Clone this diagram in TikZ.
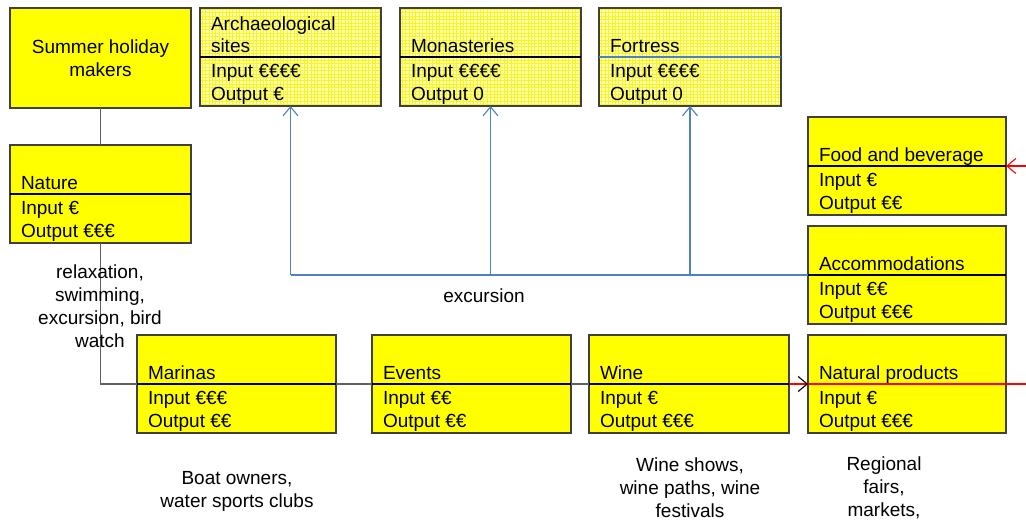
\documentclass[tikz,border=0pt]{standalone}
\usepackage{fontspec}
\setmainfont{Liberation Sans}
\usetikzlibrary{arrows.meta}
\definecolor{boxyellow}{RGB}{255,255,0}
\definecolor{paleyellow}{RGB}{255,255,175}
\definecolor{gridyellow}{RGB}{245,245,40}
\definecolor{bordergray}{RGB}{64,64,64}
\definecolor{conngray}{RGB}{96,96,96}
\definecolor{linkblue}{RGB}{79,129,189}
\definecolor{linkred}{RGB}{255,0,0}
\tikzset{
  txt/.style={font=\fontsize{19}{23}\selectfont, inner sep=0pt, outer sep=0pt, text=black},
  box/.style={draw=bordergray, line width=1.2pt, fill=boxyellow, inner sep=0pt, outer sep=0pt},
  gridbox/.style={box, fill=paleyellow,
    path picture={\draw[gridyellow, line width=0.6pt, step=3.4pt]
      (path picture bounding box.south west) grid (path picture bounding box.north east);}},
  divider/.style={black, line width=2.2pt},
  bluedivider/.style={linkblue, line width=1.4pt},
  conn/.style={conngray, line width=1.2pt},
  blueconn/.style={linkblue, line width=1.3pt},
  redconn/.style={linkred, line width=1.2pt},
  barb/.style={-{Straight Barb[length=9pt, width=15pt, line width=1.1pt]}},
}
% name, left, top, width, title, input, output, box style, divider style
\newcommand\infobox[9]{%
  \node[#8, anchor=north west, minimum width=#4pt, minimum height=98pt] (#1) at (#2,#3) {};
  \coordinate (#1-dl) at ([yshift=-49pt]#1.north west);
  \coordinate (#1-dr) at ([yshift=-49pt]#1.north east);
  \draw[#9] (#1-dl) -- (#1-dr);
  \node[txt, font=\fontsize{19}{22}\selectfont, align=left, text depth=0pt, anchor=south west] (#1-title) at ([xshift=11pt,yshift=4pt]#1-dl) {#5};
  \node[txt, anchor=base west] (#1-in) at ([xshift=11pt,yshift=-20.5pt]#1-dl) {Input #6};
  \node[txt, anchor=base west] (#1-out) at ([xshift=11pt,yshift=-43.5pt]#1-dl) {Output #7};
}
\begin{document}
\begin{tikzpicture}[x=1pt, y=-1pt]
\useasboundingbox[fill=white] (0,0) rectangle (1026,521);
\coordinate (rightedge) at (1026,0);

% top row
\node[box, txt, draw=bordergray, fill=boxyellow, anchor=north west, minimum width=181pt, minimum height=100pt, align=center] (sum) at (10,8) {Summer holiday\\makers};
\infobox{arch}{200}{8}{181}{Archaeological\\sites}{€€€€}{€}{gridbox}{divider}
\infobox{mon}{400}{8}{181}{Monasteries}{€€€€}{0}{gridbox}{divider}
\infobox{fort}{599}{8}{182}{Fortress}{€€€€}{0}{gridbox}{bluedivider}

% left column
\infobox{nat}{10}{145}{181}{Nature}{€}{€€€}{box}{divider}

% right column
\infobox{food}{808}{117}{198}{Food and beverage}{€}{€€}{box}{divider}
\infobox{acc}{808}{226}{198}{Accommodations}{€€}{€€€}{box}{divider}

% bottom row
\infobox{mar}{137}{335}{199}{Marinas}{€€€}{€€}{box}{divider}
\infobox{ev}{372}{335}{199}{Events}{€€}{€€}{box}{divider}
\infobox{wine}{589}{335}{200}{Wine}{€}{€€€}{box}{divider}
\infobox{np}{808}{335}{198}{Natural products}{€}{€€€}{box}{divider}

% grey connectors
\draw[conn] (sum.south) -- (nat.north);
\draw[conn] (nat.south) |- (mar-dl);
\draw[conn] (mar-dr) -- (ev-dl);
\draw[conn] (ev-dr) -- (wine-dl);

% red connectors
\draw[redconn] (np-dl) -- (np-dr -| rightedge);
\draw[redconn, -{Straight Barb[length=9pt, width=15pt, line width=1.1pt, color=black]}] (wine-dr) -- (np-dl);
\draw[redconn, barb] (food-dr -| rightedge) -- (food-dr);

% blue connectors (excursion)
\draw[blueconn] (acc-dl) -- (acc-dl -| arch.south);
\draw[blueconn, barb] (acc-dl -| arch.south) -- (arch.south);
\draw[blueconn, barb] (acc-dl -| mon.south) -- (mon.south);
\draw[blueconn, barb] (acc-dl -| fort.south) -- (fort.south);

% labels
\node[txt, align=center] (lab-nat) at (100,306) {relaxation,\\swimming,\\excursion, bird\\watch};
\node[txt, anchor=base] (lab-exc) at (484,303) {excursion};
\node[txt, align=center] (lab-mar) at (237,491) {Boat owners,\\water sports clubs};
\node[txt, align=center] (lab-wine) at (690,488) {Wine shows,\\wine paths, wine\\festivals};
\node[txt, align=center] (lab-np) at (884,488) {Regional\\fairs,\\markets,};
\end{tikzpicture}
\end{document}
